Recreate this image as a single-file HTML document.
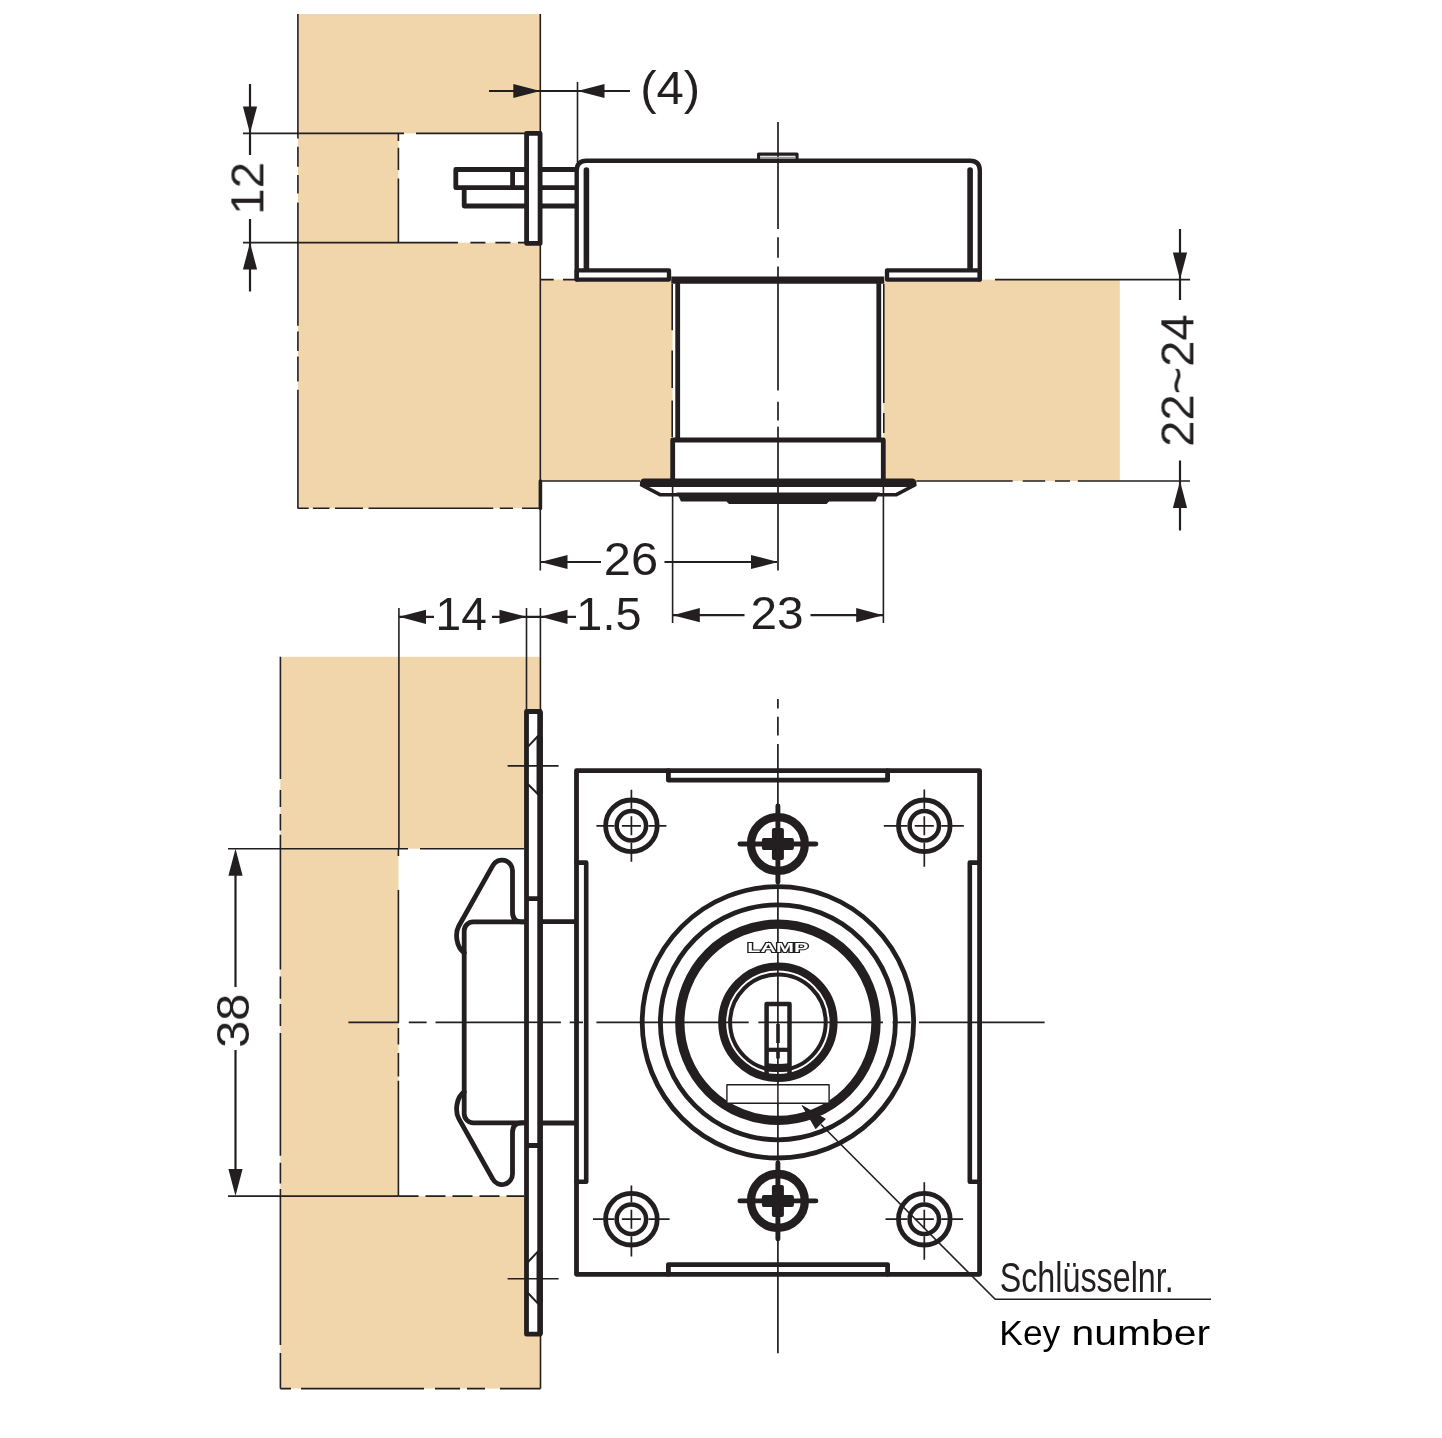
<!DOCTYPE html>
<html lang="de">
<head>
<meta charset="utf-8">
<title>Schlüsselnr. / Key number</title>
<style>
html,body{margin:0;padding:0;background:#fff;}
body{width:1442px;height:1438px;overflow:hidden;}
svg{display:block;}
text{font-family:"Liberation Sans", sans-serif;}
</style>
</head>
<body>
<svg width="1442" height="1438" viewBox="0 0 1442 1438">
<rect x="0" y="0" width="1442" height="1438" fill="#fff"/>
<g fill="#f0d6aa" stroke="none">
<path d="M298,14 H540.3 V279.6 H672.6 V481 H540.3 V508.3 H298 Z"/>
<rect x="883.4" y="279.6" width="236.4" height="201.4"/>
<rect x="280.3" y="656.8" width="260.2" height="731.8"/>
</g>
<g fill="#fff" stroke="none">
<rect x="398.5" y="133.4" width="128" height="109.2"/>
<rect x="398.5" y="848.7" width="128" height="347.4"/>
</g>
<g stroke="#231f20" fill="none" stroke-linecap="butt">
<line x1="297.9" y1="14" x2="297.9" y2="133.4" stroke-width="1.6" />
<path d="M297.9,133.4 V138.4 M297.9,146.7 V166.7 M297.9,175 V193.4 M297.9,202.6 V325.8 M297.9,331.4 V350.9 M297.9,356.4 V381.5 M297.9,389.8 V508.3" stroke-width="1.6" />
<line x1="540.3" y1="14" x2="540.3" y2="133" stroke-width="1.6" />
<line x1="540.3" y1="243" x2="540.3" y2="481" stroke-width="1.6" />
<path d="M297.6,508.3 H308.7 M312.9,508.3 H329.5 M335,508.3 H363 M368.5,508.3 H493.2 M499.8,508.3 H513 M522,508.3 H540" stroke-width="1.6" />
<path d="M243,133.4 H404 M416,133.4 H526" stroke-width="1.6" />
<path d="M243,242.6 H457.9 M470.4,242.6 H485.4 M495.4,242.6 H510.4 M518,242.6 H526" stroke-width="1.6" />
<path d="M398.4,133.4 V140.9 M398.4,147.8 V170 M398.4,178.4 V242.6" stroke-width="1.6" />
<line x1="250" y1="84" x2="250" y2="155" stroke-width="2.2" />
<line x1="250" y1="219" x2="250" y2="291.5" stroke-width="2.2" />
<line x1="489" y1="91" x2="630" y2="91" stroke-width="2.2" />
<line x1="577.5" y1="82" x2="577.5" y2="162" stroke-width="1.6" />
<path d="M540.8,279.6 H553.7 M563,279.6 H575.6 M995,279.6 H1190" stroke-width="1.6" />
<line x1="540.3" y1="481" x2="640" y2="481" stroke-width="1.6" />
<path d="M916.3,481 H1012.7 M1022.7,481 H1045.2 M1055,481 H1070 M1077.8,481 H1190" stroke-width="1.6" />
<path d="M672.2,284 V330.3 M672.2,350.4 V388 M672.2,400.4 V437 M883.8,284 V403 M883.8,413 V433" stroke-width="1.6" />
<line x1="1180" y1="229" x2="1180" y2="300" stroke-width="2.2" />
<line x1="1180" y1="460.5" x2="1180" y2="530.5" stroke-width="2.2" />
<path d="M778,122 V229 M778,237.2 V257.7 M778,266.5 V390.4 M778,401.7 V420.5 M778,426.7 V570.5" stroke-width="1.7" />
<line x1="540.3" y1="508" x2="540.3" y2="570.5" stroke-width="1.6" />
<line x1="541" y1="562" x2="601" y2="562" stroke-width="2.2" />
<line x1="664.5" y1="562" x2="777" y2="562" stroke-width="2.2" />
<line x1="672.6" y1="484" x2="672.6" y2="623" stroke-width="1.6" />
<line x1="883.4" y1="484" x2="883.4" y2="623" stroke-width="1.6" />
<line x1="673" y1="615.2" x2="744.5" y2="615.2" stroke-width="2.2" />
<line x1="810.5" y1="615.2" x2="883" y2="615.2" stroke-width="2.2" />
<line x1="398.9" y1="608" x2="398.9" y2="848.7" stroke-width="1.6" />
<line x1="526.5" y1="608" x2="526.5" y2="710" stroke-width="1.6" />
<line x1="540.4" y1="608" x2="540.4" y2="710" stroke-width="1.6" />
<line x1="399" y1="616.8" x2="434" y2="616.8" stroke-width="2.2" />
<line x1="492" y1="616.8" x2="576" y2="616.8" stroke-width="2.2" />
<path d="M280.4,656.7 V779 M280.4,790 V807 M280.4,814 V830.5 M280.4,834.7 V969.6 M280.4,976.6 V998.8 M280.4,1004 V1026 M280.4,1033 V1155.8 M280.4,1162.7 V1183.6 M280.4,1189 V1345 M280.4,1353 V1388.6" stroke-width="1.6" />
<path d="M280.3,1388.6 H291 M301,1388.6 H424 M435,1388.6 H460 M467,1388.6 H485 M500,1388.6 H540.5" stroke-width="1.6" />
<line x1="540.5" y1="1334" x2="540.5" y2="1388.6" stroke-width="1.6" />
<line x1="228" y1="848.7" x2="408" y2="848.7" stroke-width="1.6" />
<line x1="420" y1="848.7" x2="524" y2="848.7" stroke-width="1.6" />
<line x1="228" y1="1196.1" x2="398.5" y2="1196.1" stroke-width="1.6" />
<line x1="398.5" y1="1196.1" x2="524" y2="1196.1" stroke-width="1.6" stroke-dasharray="20 7"/>
<path d="M398.4,848.7 V856 M398.4,890 V1022.5 M398.4,1028 V1044.5 M398.4,1053 V1076.5 M398.4,1080.7 V1196.1" stroke-width="1.6" />
<line x1="235.5" y1="870" x2="235.5" y2="987" stroke-width="2.2" />
<line x1="235.5" y1="1050" x2="235.5" y2="1175" stroke-width="2.2" />
<path d="M348.4,1022.3 H399 M408.8,1022.3 H426.6 M435.5,1022.3 H560.9 M569.7,1022.3 H583 M596.4,1022.3 H748.7 M758.4,1022.3 H883 M892.5,1022.3 H910.6 M919,1022.3 H1044.6" stroke-width="1.7" />
<path d="M777.9,699.1 V708.4 M777.9,716.8 V735.5 M777.9,744.1 V1353.2" stroke-width="1.7" />
<line x1="507.6" y1="765.9" x2="558.6" y2="765.9" stroke-width="1.6" />
<line x1="507.6" y1="1278.7" x2="558.6" y2="1278.7" stroke-width="1.6" />
<path d="M821,1124.5 L995.2,1299.3 H1211" stroke-width="1.6" />
</g>
<polygon points="250.0,133.4 242.9,106.4 257.1,106.4" fill="#231f20" stroke="none"/>
<polygon points="250.0,242.6 257.1,269.6 242.9,269.6" fill="#231f20" stroke="none"/>
<polygon points="540.3,91.0 513.3,98.1 513.3,83.9" fill="#231f20" stroke="none"/>
<polygon points="577.5,91.0 604.5,83.9 604.5,98.1" fill="#231f20" stroke="none"/>
<polygon points="1180.0,279.6 1172.9,252.6 1187.1,252.6" fill="#231f20" stroke="none"/>
<polygon points="1180.0,481.0 1187.1,508.0 1172.9,508.0" fill="#231f20" stroke="none"/>
<polygon points="540.5,562.0 567.5,554.9 567.5,569.1" fill="#231f20" stroke="none"/>
<polygon points="778.0,562.0 751.0,569.1 751.0,554.9" fill="#231f20" stroke="none"/>
<polygon points="672.8,615.2 699.8,608.1 699.8,622.3" fill="#231f20" stroke="none"/>
<polygon points="883.2,615.2 856.2,622.3 856.2,608.1" fill="#231f20" stroke="none"/>
<polygon points="399.0,616.8 426.0,609.7 426.0,623.9" fill="#231f20" stroke="none"/>
<polygon points="526.5,616.8 499.5,623.9 499.5,609.7" fill="#231f20" stroke="none"/>
<polygon points="540.5,616.8 567.5,609.7 567.5,623.9" fill="#231f20" stroke="none"/>
<polygon points="235.5,848.7 242.6,875.7 228.4,875.7" fill="#231f20" stroke="none"/>
<polygon points="235.5,1196.1 228.4,1169.1 242.6,1169.1" fill="#231f20" stroke="none"/>
<polygon points="801.6,1105.0 825.7,1119.1 815.7,1129.1" fill="#231f20" stroke="none"/>
<g stroke="#231f20" fill="none" stroke-linejoin="round" stroke-linecap="round">
<path d="M526,169.5 H455.8 V187.7 H526 M512.6,169.5 V187.7 M464.2,187.7 V206 H526" stroke-width="4.8" stroke-linejoin="round" stroke-linecap="butt"/>
<path d="M541,169.5 H576 M541,187.7 H576 M541,206 H576" stroke-width="4.8" stroke-linecap="butt"/>
<rect x="526.6" y="133.4" width="13.5" height="110.0" stroke-width="4.8" fill="#fff" />
<path d="M576.7,279.6 V170.5 Q576.7,160.8 586.5,160.8 H970 Q979.8,160.8 979.8,170.5 V279.6" stroke-width="4.4" />
<path d="M586.4,170 V268 M970.1,170 V268" stroke-width="5.6" />
<path d="M576.7,270.4 H669 V279.6 H576.7 Z M887,270.4 H979.8 V279.6 H887 Z" stroke-width="4.3" />
<path d="M758.6,160 V154.2 H797 V160" stroke-width="3.2" />
<line x1="761" y1="157.6" x2="795" y2="157.6" stroke-width="1.6" stroke="#999"/>
<path d="M671.3,280.2 H884.2" stroke-width="7.2" stroke-linecap="butt"/>
<path d="M677.7,280 V440 M878.8,280 V440" stroke-width="4.8" stroke-linecap="butt"/>
<path d="M672.7,481 V440 H883.3 V481" stroke-width="4.8" stroke-linecap="butt"/>
<path d="M644.2,482.8 H912.2" stroke-width="8.6" />
<path d="M641.6,485 L660,494.7 H679 M914.8,485 L896.4,494.7 H877.5" stroke-width="3.6" />
<path d="M676.6,492.6 H879.7 L875.5,501.6 H829 L826.5,504 H729 L726.5,501.6 H681 Z" fill="#231f20" stroke="none"/>
<path d="M540.4,481 V508.5" stroke-width="3.6" stroke-linecap="round"/>
<path d="M524,921.8 H473.2 A9,9 0 0 0 464.2,930.8 V1113.8 A9,9 0 0 0 473.2,1122.8 H524" stroke-width="4.8" />
<path d="M524,921.8 H521.5 Q512.5,921.8 512.5,912 V870.8 A10.5,10.5 0 0 0 492.6,865.9 L458.8,926 C454.9,933 456,947 464.2,952.8" stroke-width="4.8" />
<g transform="translate(0,2044.6) scale(1,-1)">
<path d="M524,921.8 H521.5 Q512.5,921.8 512.5,912 V870.8 A10.5,10.5 0 0 0 492.6,865.9 L458.8,926 C454.9,933 456,947 464.2,952.8" stroke-width="4.8" />
</g>
<path d="M542,921.7 H576 M542,1123 H576" stroke-width="4.8" stroke-linecap="butt"/>
<rect x="526.5" y="711.5" width="13.7" height="622.7" stroke-width="4.8" fill="#fff" />
<path d="M540.1,711.5 V1334.2" stroke-width="5.5" stroke-linecap="butt"/>
<path d="M526.5,898.6 H540.4 M526.5,1145.5 H540.4" stroke-width="4.8" stroke-linecap="butt"/>
<path d="M526,1022.3 H541" stroke-width="1.7" stroke-linecap="butt"/>
<path d="M526,765.9 H541 M526,1278.7 H541" stroke-width="1.6" stroke-linecap="butt"/>
<path d="M528,746.6 L538,736 M528,784.3 L538,794.2 M528,1262 L538,1251.4 M528,1293 L538,1303.6" stroke-width="2" />
<path d="M539.7,736.6 V793.6 M539.7,1252 V1303" stroke-width="6.3" stroke-linecap="butt"/>
<rect x="576.5" y="770.7" width="403.1" height="503.6" stroke-width="4.8" fill="none" />
<path d="M668.4,770.7 V780.2 H887.6 V770.7 M668.4,1274.3 V1264.6 H887.6 V1274.3" stroke-width="4.8" />
<path d="M576.4,862.6 H586.2 V1181.8 H576.4 M979.6,862.6 H969.8 V1181.8 H979.6" stroke-width="4.6" />
<circle cx="777.9" cy="1022.3" r="135.7" stroke-width="4.8" fill="none"/>
<circle cx="777.9" cy="1022.3" r="117.5" stroke-width="4.8" fill="none"/>
<circle cx="777.9" cy="1022.3" r="98.1" stroke-width="9.3" fill="none"/>
<circle cx="777.9" cy="1022.3" r="55.7" stroke-width="8.0" fill="none"/>
<circle cx="777.9" cy="1022.3" r="47.8" stroke-width="4.0" fill="none"/>
<circle cx="631.4" cy="825.8" r="25.8" stroke-width="4.8" fill="none"/>
<circle cx="631.4" cy="825.8" r="14.7" stroke-width="4.5" fill="none"/>
<path d="M596.4,825.8 H614.4 M621.9,825.8 H640.9 M648.4,825.8 H666.4 M631.4,789.8 V808.8 M631.4,816.3 V835.3 M631.4,842.8 V861.8" stroke-width="1.7" stroke-linecap="butt"/>
<circle cx="924.3" cy="825.8" r="25.8" stroke-width="4.8" fill="none"/>
<circle cx="924.3" cy="825.8" r="14.7" stroke-width="4.5" fill="none"/>
<path d="M883.8,825.8 H907.3 M914.8,825.8 H933.8 M941.3,825.8 H963.8 M924.3,789.5 V808.8 M924.3,816.3 V835.3 M924.3,842.8 V866.8" stroke-width="1.7" stroke-linecap="butt"/>
<circle cx="631.4" cy="1219.2" r="25.8" stroke-width="4.8" fill="none"/>
<circle cx="631.4" cy="1219.2" r="14.7" stroke-width="4.5" fill="none"/>
<path d="M593.0,1219.2 H614.4 M621.9,1219.2 H640.9 M648.4,1219.2 H669.6 M631.4,1185.5 V1202.2 M631.4,1209.7 V1228.7 M631.4,1236.2 V1256.5" stroke-width="1.7" stroke-linecap="butt"/>
<circle cx="924.3" cy="1219.2" r="25.8" stroke-width="4.8" fill="none"/>
<circle cx="924.3" cy="1219.2" r="14.7" stroke-width="4.5" fill="none"/>
<path d="M885.5,1219.2 H907.3 M914.8,1219.2 H933.8 M941.3,1219.2 H963.0999999999999 M924.3,1182.2 V1202.2 M924.3,1209.7 V1228.7 M924.3,1236.2 V1259.8" stroke-width="1.7" stroke-linecap="butt"/>
<circle cx="777.9" cy="844" r="26.9" stroke-width="8.3" fill="#fff"/>
<path d="M739.9,844 H815.9 M777.9,806 V882" stroke-width="4.9" />
<path d="M773.9,830 h8 v10 h10 v8 h-10 v10 h-8 v-10 h-10 v-8 h10 Z" fill="#231f20" stroke="#231f20" stroke-width="4"/>
<circle cx="777.9" cy="1200.9" r="26.9" stroke-width="8.3" fill="#fff"/>
<path d="M739.9,1200.9 H815.9 M777.9,1162.9 V1238.9" stroke-width="4.9" />
<path d="M773.9,1186.9 h8 v10 h10 v8 h-10 v10 h-8 v-10 h-10 v-8 h10 Z" fill="#231f20" stroke="#231f20" stroke-width="4"/>
<path d="M766.6,1077 V1004 H789.5 V1077" stroke-width="4.5" stroke-linejoin="round" stroke-linecap="butt"/>
<path d="M766.7,1049.8 H789.6" stroke-width="4.2" stroke-linecap="butt"/>
<path d="M766.7,1067.2 Q778,1068.6 789.6,1067.2" stroke-width="8" stroke-linecap="butt"/>
<path d="M778,1024 V1043 M778,1051.5 V1058.5" stroke-width="3.6" stroke-linecap="butt"/>
<rect x="726.9" y="1084.7" width="102.2" height="18.5" stroke-width="1.4" fill="#fff" />
<line x1="777.9" y1="1084" x2="777.9" y2="1104" stroke-width="1.5" />
</g>
<polygon points="801.6,1105.0 825.7,1119.1 815.7,1129.1" fill="#231f20" stroke="none"/>
<g fill="#231f20" opacity="0.999" font-family="'Liberation Sans', sans-serif">
<text transform="translate(670.2,103.6) scale(1.05,1)" font-size="46.8" text-anchor="middle" >(4)</text>
<text transform="translate(631,575.4) scale(1.043,1)" font-size="46.8" text-anchor="middle" >26</text>
<text transform="translate(777.1,629.2) scale(1.02,1)" font-size="46.8" text-anchor="middle" >23</text>
<text transform="translate(461.2,629.9) scale(0.985,1)" font-size="46.8" text-anchor="middle" >14</text>
<text transform="translate(608.9,629.9) scale(1.0,1)" font-size="46.8" text-anchor="middle" >1.5</text>
<text transform="translate(263.4,188.4) rotate(-90) scale(1.015,1)" font-size="46.8" text-anchor="middle" >12</text>
<text transform="translate(1193.4,380.6) rotate(-90) scale(1.007,1)" font-size="46.8" text-anchor="middle" >22~24</text>
<text transform="translate(249,1020.7) rotate(-90) scale(1.04,1)" font-size="46.8" text-anchor="middle" >38</text>
<text transform="translate(999.7,1291.7) scale(1,1)" font-size="43" text-anchor="start" textLength="174" lengthAdjust="spacingAndGlyphs" >Schlüsselnr.</text>
<text y="1344.6" font-size="35.5" fill="#000"><tspan x="999.3" textLength="61" lengthAdjust="spacingAndGlyphs">Key</tspan> <tspan x="1071.5" textLength="138.5" lengthAdjust="spacingAndGlyphs">number</tspan></text>
<text x="777.8" y="952.4" font-size="13.6" font-weight="bold" text-anchor="middle" textLength="61" lengthAdjust="spacingAndGlyphs" fill="#fff" stroke="#231f20" stroke-width="1.9" paint-order="stroke">LAMP</text>
</g>
</svg>
</body>
</html>
